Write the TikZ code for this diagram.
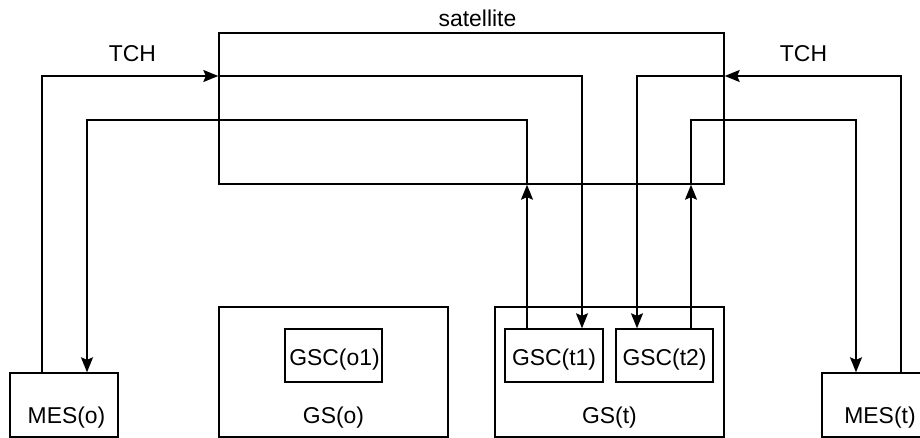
\documentclass[tikz,border=0pt]{standalone}
\usepackage{fontspec}
\setmainfont{Liberation Sans}
\usetikzlibrary{arrows.meta}
\begin{document}
\begin{tikzpicture}[x=1bp,y=-1bp,
  box/.style={draw,line width=1.4bp,inner sep=0pt,minimum width=#1},
  lbl/.style={anchor=base,inner sep=0pt,font=\fontsize{22.9bp}{27bp}\selectfont},
  conn/.style={line width=1.4bp},
  arr/.style={conn,-{Stealth[length=15bp,width=12bp,inset=2.5bp]}}]
\useasboundingbox (0,0) rectangle (920,438);
% boxes
\node[box=505bp,minimum height=151bp] (sat) at (471.5,108.5) {};
\node[box=108bp,minimum height=64bp] (meso) at (64,405) {};
\node[box=108bp,minimum height=64bp] (mest) at (876,405) {};
\node[box=229bp,minimum height=130bp] (gso) at (333.5,372) {};
\node[box=229bp,minimum height=130bp] (gst) at (609.5,372) {};
\node[box=97bp,minimum height=53bp] (gsco1) at (333.5,355.5) {};
\node[box=98bp,minimum height=53bp] (gsct1) at (554,355.5) {};
\node[box=97bp,minimum height=53bp] (gsct2) at (664.5,355.5) {};
% labels
\node[lbl] (satlbl) at (477.5,27) {satellite};
\node[lbl] (tchl) at (132.5,62) {TCH};
\node[lbl] (tchr) at (803.5,62) {TCH};
\node[lbl] (mesolbl) at (66.5,423) {MES(o)};
\node[lbl] (mestlbl) at (880,423) {MES(t)};
\node[lbl] (gsolbl) at (333.5,423) {GS(o)};
\node[lbl] (gstlbl) at (609.5,423) {GS(t)};
\node[lbl] (gsco1lbl) at (334.5,366) {GSC(o1)};
\node[lbl] (gsct1lbl) at (554,366) {GSC(t1)};
\node[lbl] (gsct2lbl) at (664.5,366) {GSC(t2)};
% routing coordinates
\coordinate (a1) at (42,76);
\coordinate (b1) at (582,76);
\coordinate (c1) at (527,120);
\coordinate (d1) at (87,120);
\coordinate (a2) at (901,76);
\coordinate (b2) at (637,76);
\coordinate (c2) at (691,120);
\coordinate (d2) at (856,120);
% connectors
\draw[arr] (meso.north -| a1) -- (a1) -- (sat.west |- a1);
\draw[arr] (sat.west |- b1) -- (b1) -- (gsct1.north -| b1);
\draw[arr] (gsct1.north -| c1) -- (sat.south -| c1);
\draw[arr] (sat.south -| c1) -- (c1) -- (d1) -- (meso.north -| d1);
\draw[arr] (mest.north -| a2) -- (a2) -- (sat.east |- a2);
\draw[arr] (sat.east |- b2) -- (b2) -- (gsct2.north -| b2);
\draw[arr] (gsct2.north -| c2) -- (sat.south -| c2);
\draw[arr] (sat.south -| c2) -- (c2) -- (d2) -- (mest.north -| d2);
\end{tikzpicture}
\end{document}
